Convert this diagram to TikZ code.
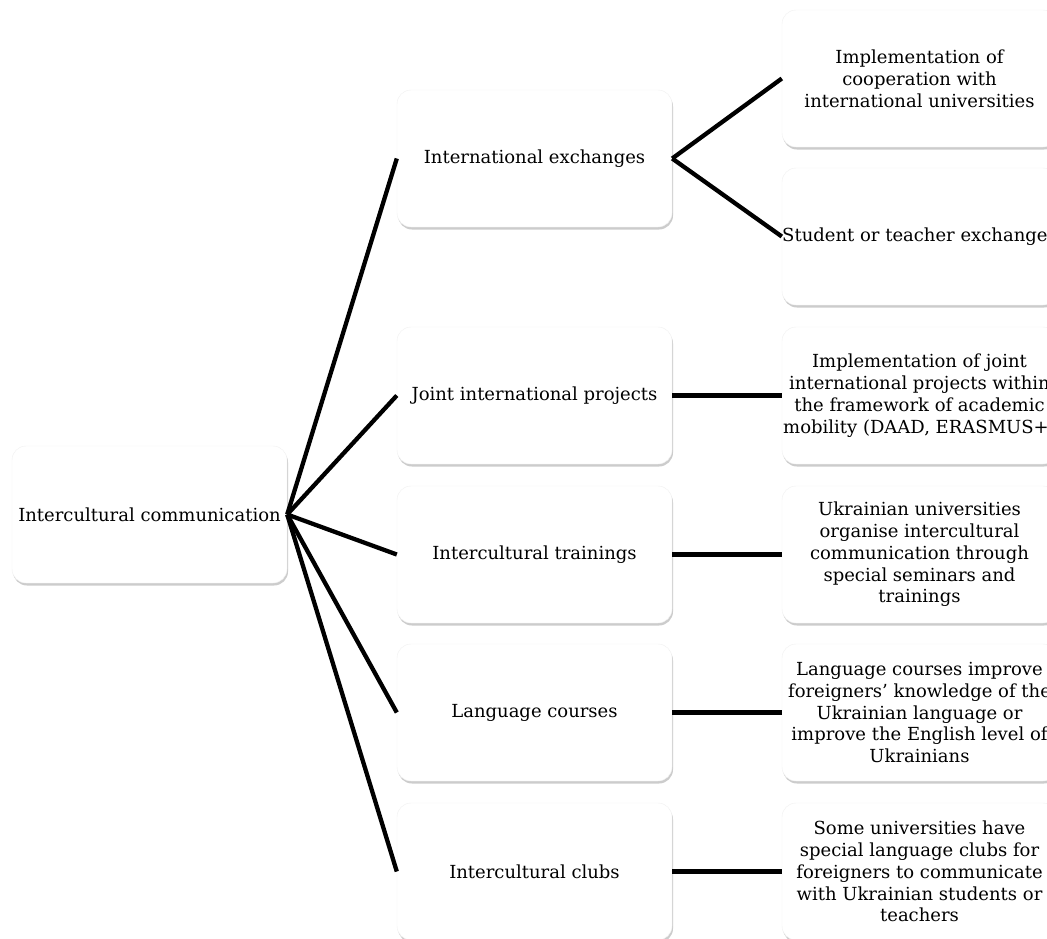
\documentclass[tikz,border=0pt]{standalone}
\usepackage{fontspec}
\setmainfont{DejaVu Serif}
\usetikzlibrary{shadows}
\begin{document}
\begin{tikzpicture}[x=1pt,y=-1pt,
  box/.style={draw=black!6, fill=white, rounded corners=14pt, minimum width=275pt, minimum height=137pt,
    inner sep=0pt, align=center, font=\fontsize{18}{21.8}\selectfont,
    drop shadow={opacity=0.4, shadow xshift=1pt, shadow yshift=-2.5pt}},
  link/.style={line width=4.3pt, black}]
\useasboundingbox (0,0) rectangle (1047,938);
\fill[white] (0,0) rectangle (1047,938);
\node[box] (root) at (149.5,514.5) {Intercultural communication};
\node[box] (m1) at (534.5,158.5) {International exchanges};
\node[box] (m2) at (534.5,395.5) {Joint international projects};
\node[box] (m3) at (534.5,554.5) {Intercultural trainings};
\node[box] (m4) at (534.5,712.5) {Language courses};
\node[box] (m5) at (534.5,871.5) {Intercultural clubs};
\node[box] (r1) at (919.5,78.5) {Implementation of\\cooperation with\\international universities};
\node[box] (r2) at (919.5,236.5) {Student or teacher exchanges};
\node[box] (r3) at (919.5,395.5) {Implementation of joint\\international projects within\\the framework of academic\\mobility (DAAD, ERASMUS+)};
\node[box] (r4) at (919.5,554.5) {Ukrainian universities\\organise intercultural\\communication through\\special seminars and\\trainings};
\node[box] (r5) at (919.5,712.5) {Language courses improve\\foreigners' knowledge of the\\Ukrainian language or\\improve the English level of\\Ukrainians};
\node[box] (r6) at (919.5,871.5) {Some universities have\\special language clubs for\\foreigners to communicate\\with Ukrainian students or\\teachers};
\foreach \m in {m1,m2,m3,m4,m5} \draw[link] (root.east) -- (\m.west);
\draw[link] (m1.east) -- (r1.west);
\draw[link] (m1.east) -- (r2.west);
\draw[link] (m2.east) -- (r3.west);
\draw[link] (m3.east) -- (r4.west);
\draw[link] (m4.east) -- (r5.west);
\draw[link] (m5.east) -- (r6.west);
\end{tikzpicture}
\end{document}
